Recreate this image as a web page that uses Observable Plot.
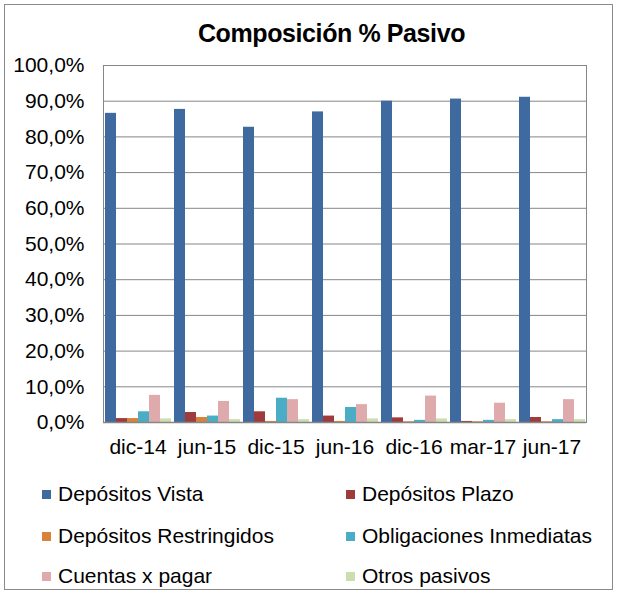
<!DOCTYPE html>
<html><head><meta charset="utf-8">
<script src="https://cdn.jsdelivr.net/npm/d3@7"></script>
<script src="https://cdn.jsdelivr.net/npm/@observablehq/plot@0.6"></script>
<style>
body{margin:0;background:#fff;}
#wrap{position:relative;width:618px;height:594px;font-family:"Liberation Sans",Arial,sans-serif;overflow:hidden;}
#frame{position:absolute;left:4px;top:4px;width:609px;height:586px;border:1.5px solid #8a8a8a;box-sizing:border-box;}
#title{position:absolute;left:0;width:663px;top:19px;text-align:center;font-family:"Liberation Sans",Arial,sans-serif;font-weight:bold;font-size:25px;line-height:29px;letter-spacing:-0.4px;color:#000;}
#chart{position:absolute;left:0;top:40px;}
.lg{position:absolute;font-size:21px;line-height:21px;color:#000;white-space:nowrap;}
.sw{position:absolute;width:9px;height:9px;}
</style>
</head><body>
<div id="wrap">
  <div id="frame"></div>
  <div id="title">Composición % Pasivo</div>
  <div id="chart"></div>
  <div id="legend"></div>
</div>
<script>
const dates = ["dic-14","jun-15","dic-15","jun-16","dic-16","mar-17","jun-17"];
const series = ["Depósitos Vista","Depósitos Plazo","Depósitos Restringidos","Obligaciones Inmediatas","Cuentas x pagar","Otros pasivos"];
const depositosVista = [86.6, 87.7, 82.7, 87.0, 90.0, 90.6, 91.1];
const depositosPlazo = [1.1, 2.8, 3.0, 1.8, 1.3, 0.3, 1.4];
const depositosRestringidos = [1.1, 1.4, 0.3, 0.3, 0.2, 0.2, 0.2];
const obligacionesInmediatas = [3.0, 1.8, 6.8, 4.2, 0.6, 0.6, 0.8];
const cuentasPorPagar = [7.6, 5.9, 6.4, 5.0, 7.4, 5.4, 6.4];
const otrosPasivos = [1.0, 0.8, 0.8, 1.0, 1.0, 0.8, 0.8];
const yTicks = [0,10,20,30,40,50,60,70,80,90,100];
const colors = ["#3E6A9F","#A03B3C","#D8823A","#4BACC6","#DEAAAB","#CCDDB0"];

const values = [depositosVista, depositosPlazo, depositosRestringidos, obligacionesInmediatas, cuentasPorPagar, otrosPasivos];
const table = dates.flatMap((d, i) => series.map((s, j) => ({date: d, serie: s, value: values[j][i]})));
const fmt = v => v.toFixed(1).replace(".", ",") + "%";

const plot = Plot.plot({
  width: 618,
  height: 422,
  marginTop: 25,
  marginBottom: 40,
  marginLeft: 101,
  marginRight: 30,
  style: {fontSize: "21px", fontFamily: "'Liberation Sans', Arial, sans-serif", color: "#000", background: "transparent", overflow: "visible"},
  fx: {domain: dates, padding: 0, axis: "bottom", tickSize: 0, tickPadding: 17, label: null},
  x: {domain: series, padding: 0, axis: null},
  y: {domain: [0, 100], ticks: yTicks, tickFormat: fmt, tickSize: 0, tickPadding: 19, label: null},
  color: {domain: series, range: colors},
  marks: [
    Plot.ruleY(yTicks, {stroke: "#868686", strokeWidth: 1}),
    Plot.barY(table, {fx: "date", x: "serie", y: "value", fill: "serie"}),
    Plot.ruleY([0], {stroke: "#868686", strokeWidth: 1.5}),
    Plot.frame({facet: "super", stroke: "#868686", strokeWidth: 1})
  ]
});
document.getElementById("chart").appendChild(plot);

const legend = document.getElementById("legend");
const pos = [[42, 494], [346, 494], [42, 536], [346, 536], [42, 576], [346, 576]];
series.forEach((s, i) => {
  const [x, y] = pos[i];
  const sw = document.createElement("div");
  sw.className = "sw";
  sw.style.left = x + "px"; sw.style.top = (y - 4) + "px"; sw.style.background = colors[i];
  const t = document.createElement("div");
  t.className = "lg";
  t.style.left = (x + 16) + "px"; t.style.top = (y - 11) + "px";
  t.textContent = s;
  legend.appendChild(sw); legend.appendChild(t);
});
</script>
</body></html>
